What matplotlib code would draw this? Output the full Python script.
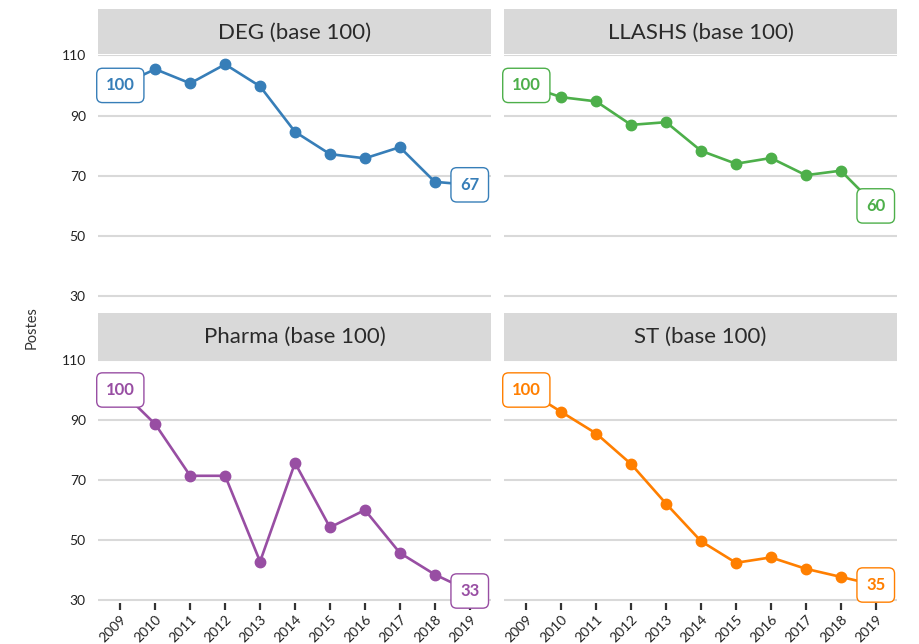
import matplotlib
matplotlib.use("Agg")
import matplotlib.pyplot as plt

years = [2009, 2010, 2011, 2012, 2013, 2014, 2015, 2016, 2017, 2018, 2019]
deg = [100, 105.4, 100.7, 107.0, 99.7, 84.6, 77.2, 75.8, 79.5, 68.0, 67]
llashs = [100, 96.1, 94.7, 86.9, 87.8, 78.3, 74.0, 75.9, 70.2, 71.7, 60]
pharma = [100, 88.6, 71.4, 71.4, 42.8, 75.7, 54.2, 60.0, 45.7, 38.5, 33]
st = [100, 92.7, 85.5, 75.3, 62.1, 49.6, 42.4, 44.2, 40.4, 37.7, 35]

titles = ["DEG (base 100)", "LLASHS (base 100)", "Pharma (base 100)", "ST (base 100)"]
series = [deg, llashs, pharma, st]
colors = ["#377eb8", "#4daf4a", "#984ea3", "#ff7f00"]
yticks = [30, 50, 70, 90, 110]
ylabel = "Postes"

plt.rcParams['font.family'] = ['Lato', 'DejaVu Sans']

W, H = 919, 644
fig = plt.figure(figsize=(W / 100, H / 100), dpi=100)


def box(x0, y0, x1, y1):
    # pixel coords (top-left origin) -> fig fraction
    return [x0 / W, 1 - y1 / H, (x1 - x0) / W, (y1 - y0) / H]


cols = [(98.3, 490.7), (504.3, 896.7)]
rows = [(54.7, 299.3), (359.4, 603.0)]
strips = [(9, 54), (312.7, 359)]

for i in range(4):
    r, c = divmod(i, 2)
    x0, x1 = cols[c]
    y0, y1 = rows[r]
    ax = fig.add_axes(box(x0, y0, x1, y1))
    ax.set_xlim(2008.37, 2019.6)
    ax.set_ylim(29, 110.2)
    for s in ax.spines.values():
        s.set_visible(False)
    ax.set_yticks(yticks)
    ax.grid(axis='y', color='#d9d9d9', linewidth=1.5, zorder=0)
    ax.set_axisbelow(True)
    ax.tick_params(axis='y', length=0, pad=9, labelsize=10, labelcolor='#222222')
    if c == 1:
        ax.tick_params(axis='y', labelleft=False)
    if r == 0:
        ax.set_xticks([])
    else:
        ax.set_xticks(years)
        ax.set_xticklabels([str(y) for y in years], rotation=45, ha='right',
                           rotation_mode='anchor', fontsize=10, color='#222222')
        ax.tick_params(axis='x', length=5, width=1.6, color='#333333', pad=2)
    vals = series[i]
    col = colors[i]
    ax.plot(years, vals, color=col, linewidth=1.9, marker='o', markersize=7.5, zorder=3,
            clip_on=False)
    for xi, yi in [(years[0], vals[0]), (years[-1], vals[-1])]:
        ax.text(xi, yi, f"{yi:g}", color=col, fontsize=12, fontweight='bold',
                ha='center', va='center', zorder=5,
                bbox=dict(boxstyle='round,pad=0.55,rounding_size=0.35', fc='white',
                          ec=col, lw=1.0))
    # strip
    sy0, sy1 = strips[r]
    sax = fig.add_axes(box(x0, sy0, x1, sy1))
    sax.set_facecolor('#d9d9d9')
    sax.set_xticks([])
    sax.set_yticks([])
    for s in sax.spines.values():
        s.set_visible(False)
    sax.text(0.5, 0.47, titles[i], ha='center', va='center', fontsize=16,
             fontweight='normal', color='#2a2a2a', transform=sax.transAxes)

fig.text(32 / W, 1 - 328 / H, ylabel, rotation=90, ha='center', va='center',
         fontsize=10.5, color='#333333')

fig.savefig("out.png", dpi=100)
